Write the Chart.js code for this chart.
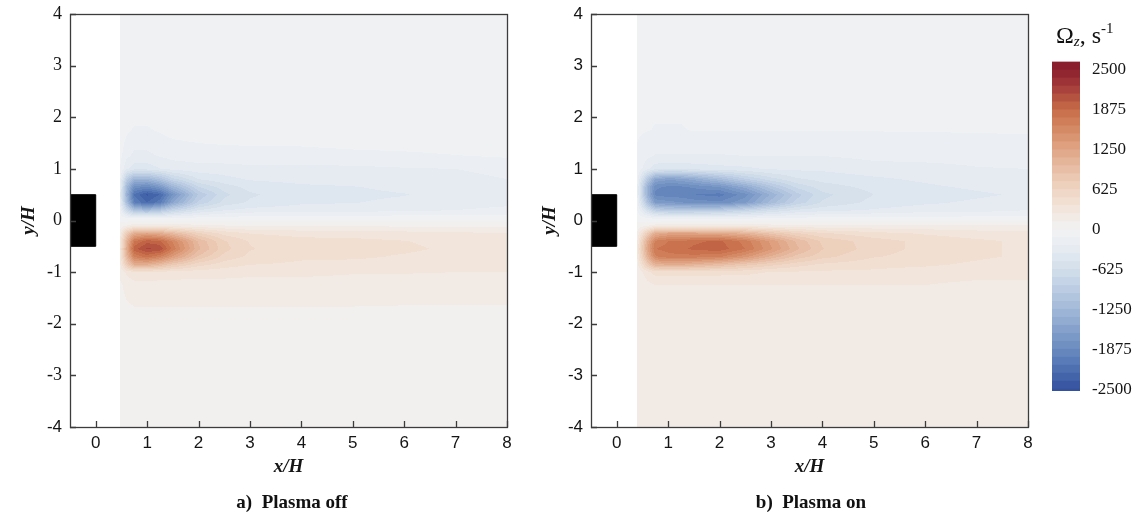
<!DOCTYPE html>
<html>
<head>
<meta charset="utf-8">
<script src="https://cdn.jsdelivr.net/npm/chart.js@4.4.1/dist/chart.umd.min.js"></script>
<style>
    body { margin: 0; background: #fff; }
    #wrap { position: relative; width: 1138px; height: 529px; overflow: hidden; }
    canvas { position: absolute; top: 0; }
    .cap { position: absolute; top: 491px; line-height: 24px; font: bold 19px "Liberation Serif", serif; color: #111; white-space: pre; transform: translateX(-50%); }
    #cbtitle { position: absolute; left: 1056px; top: 20px; font: 24px "Liberation Serif", serif; color: #111; white-space: nowrap; }
    #cbtitle sub { font-size: 15px; font-style: italic; vertical-align: -3px; }
    #cbtitle sup { font-size: 15px; vertical-align: 10px; }
</style>
</head>
<body>
<div id="wrap">
    <canvas id="off" width="530" height="529" style="left:0"></canvas>
    <canvas id="on" width="530" height="529" style="left:521px"></canvas>
    <canvas id="bar" width="98" height="529" style="left:1040px"></canvas>
    <div class="cap" style="left:292px">a)  Plasma off</div>
    <div class="cap" style="left:811px">b)  Plasma on</div>
    <div id="cbtitle">Ω<sub>z</sub>, s<sup>-1</sup></div>
</div>
<script>
var xTicks = [0, 1, 2, 3, 4, 5, 6, 7, 8]
var yTicks = [-4, -3, -2, -1, 0, 1, 2, 3, 4]
var levelTicks = [-2500, -1875, -1250, -625, 0, 625, 1250, 1875, 2500]
var levelStep = 125

// body cross-section, x/H and y/H
var blockX = [-0.5, 0, 0, -0.5, -0.5]
var blockY = [-0.5, -0.5, 0.5, 0.5, -0.5]

// grid rows, top to bottom (y/H)
var rowsY = [4, 2.5, 1.75, 1.25, 1.0, 0.8, 0.65, 0.5, 0.35, 0.2, 0.05, -0.1, -0.25, -0.4, -0.55, -0.7, -0.85, -1.0, -1.25, -1.75, -2.5, -4]

// plasma off: vorticity, s^-1
var colsOff = [0.47, 0.6, 0.75, 1.0, 1.25, 1.5, 2.0, 2.5, 3.0, 4.0, 5.0, 6.0, 7.0, 8.0]
var omegaOff = [
    [-10, -10, -10, -10, -10, -10, -10, -10, -10, -10, -10, -10, -10, -10],
    [-10, -10, -10, -10, -10, -10, -10, -10, -10, -10, -10, -10, -10, -10],
    [-30, -100, -140, -140, -110, -80, -60, -50, -40, -30, -20, -10, -10, -10],
    [-80, -220, -280, -280, -240, -210, -190, -180, -180, -180, -160, -150, -130, -110],
    [-120, -350, -450, -450, -380, -330, -300, -300, -280, -280, -280, -260, -250, -220],
    [-200, -900, -1300, -1300, -1100, -800, -500, -420, -360, -330, -320, -300, -280, -250],
    [-250, -1200, -1800, -1900, -1700, -1300, -750, -560, -460, -400, -380, -350, -320, -300],
    [-300, -1300, -2150, -2400, -2250, -1750, -980, -660, -520, -420, -400, -380, -330, -300],
    [-250, -1150, -2000, -2250, -2050, -1500, -850, -580, -480, -400, -380, -350, -300, -280],
    [-150, -700, -1100, -1200, -1050, -800, -500, -380, -330, -300, -300, -280, -250, -220],
    [-40, -120, -150, -150, -150, -120, -100, -80, -70, -60, -60, -50, -50, -50],
    [40, 130, 200, 200, 200, 180, 160, 130, 110, 110, 110, 100, 100, 100],
    [150, 750, 1150, 1250, 1150, 1000, 650, 460, 370, 330, 320, 300, 280, 250],
    [250, 1050, 1750, 1950, 1900, 1600, 980, 640, 490, 420, 410, 380, 330, 300],
    [300, 1150, 1950, 2150, 2100, 1700, 1030, 670, 510, 420, 410, 400, 350, 320],
    [250, 1000, 1650, 1800, 1650, 1350, 850, 580, 470, 400, 400, 360, 320, 300],
    [200, 750, 1150, 1150, 1000, 800, 560, 440, 380, 350, 330, 320, 300, 280],
    [150, 280, 350, 350, 340, 320, 310, 300, 280, 280, 260, 260, 250, 250],
    [100, 160, 200, 200, 200, 200, 200, 200, 200, 200, 200, 180, 180, 180],
    [80, 100, 110, 110, 110, 110, 110, 110, 110, 110, 110, 110, 110, 110],
    [80, 100, 100, 100, 100, 100, 100, 100, 100, 100, 100, 100, 100, 100],
    [80, 80, 80, 80, 80, 80, 80, 80, 80, 80, 80, 80, 80, 80]
]

// plasma on: vorticity, s^-1
var colsOn = [0.4, 0.6, 0.75, 1.0, 1.25, 1.5, 2.0, 2.5, 3.0, 3.5, 4.0, 5.0, 6.0, 7.0, 8.0]
var omegaOn = [
    [-100, -100, -100, -100, -100, -100, -100, -100, -100, -100, -100, -100, -100, -100, -100],
    [-100, -100, -100, -100, -100, -100, -100, -100, -100, -100, -100, -100, -100, -100, -100],
    [-110, -120, -130, -130, -130, -120, -120, -120, -120, -120, -120, -120, -120, -115, -115],
    [-140, -220, -260, -260, -260, -260, -260, -250, -250, -250, -250, -220, -200, -200, -180],
    [-160, -350, -450, -480, -480, -450, -420, -400, -360, -350, -350, -300, -300, -260, -250],
    [-200, -1000, -1500, -1600, -1550, -1450, -1200, -900, -680, -520, -460, -400, -350, -300, -300],
    [-250, -1350, -1850, -1900, -1900, -1850, -1750, -1450, -1050, -720, -560, -460, -400, -350, -300],
    [-250, -1350, -1900, -1950, -1950, -2000, -2050, -1800, -1350, -930, -660, -500, -450, -400, -350],
    [-200, -1100, -1650, -1700, -1750, -1800, -1850, -1650, -1200, -830, -610, -460, -400, -350, -300],
    [-120, -600, -900, -1000, -1000, -1000, -950, -800, -620, -480, -420, -360, -300, -300, -250],
    [-40, -120, -170, -170, -170, -170, -170, -160, -130, -110, -100, -100, -100, -80, -80],
    [40, 120, 180, 220, 220, 220, 220, 210, 170, 160, 150, 150, 150, 150, 150],
    [150, 750, 1150, 1250, 1250, 1250, 1200, 1080, 850, 640, 520, 420, 360, 310, 300],
    [250, 1150, 1650, 1750, 1750, 1850, 1900, 1700, 1340, 980, 720, 560, 460, 400, 350],
    [300, 1250, 1750, 1800, 1850, 1900, 1950, 1750, 1400, 1030, 760, 560, 460, 400, 350],
    [250, 1100, 1600, 1700, 1700, 1700, 1650, 1420, 1100, 830, 670, 510, 450, 400, 350],
    [200, 750, 1100, 1150, 1150, 1100, 980, 820, 680, 560, 480, 420, 400, 350, 300],
    [150, 330, 430, 430, 430, 420, 420, 410, 370, 360, 350, 350, 310, 300, 300],
    [140, 210, 250, 250, 250, 250, 250, 250, 250, 250, 250, 250, 250, 220, 220],
    [140, 160, 170, 170, 170, 170, 170, 170, 170, 170, 170, 170, 170, 170, 170],
    [140, 150, 150, 150, 150, 150, 150, 150, 150, 150, 150, 150, 150, 150, 150],
    [130, 140, 140, 140, 140, 140, 140, 140, 140, 140, 140, 140, 140, 140, 140]
]

// blue-white-red contour palette
var cmapValues = [-2500, -2200, -1875, -1560, -1250, -940, -625, -310, 0, 310, 625, 940, 1250, 1560, 1875, 2200, 2500]
var cmapColors = ['#34519e', '#4d6fb0', '#6a8bc0', '#86a2cc', '#a2b9d8', '#bccde3', '#d3deeb', '#e6ebf2', '#f2f2f2',
    '#f2e6dc', '#efd5c3', '#e8bfa6', '#e0a586', '#d48a65', '#c76c48', '#a8403b', '#8b1e2d']

var serif = 'Liberation Serif'
var sans = 'Liberation Sans'
var ink = '#151515'

function hex(c) {
    return [1, 3, 5].map(i => parseInt(c.substr(i, 2), 16))
}

function colorAt(v) {
    var n = cmapValues.length
    if (v <= cmapValues[0]) return hex(cmapColors[0])
    if (v >= cmapValues[n - 1]) return hex(cmapColors[n - 1])
    var i = 0
    while (v > cmapValues[i + 1]) i++
    var t = (v - cmapValues[i]) / (cmapValues[i + 1] - cmapValues[i])
    var a = hex(cmapColors[i]), b = hex(cmapColors[i + 1])
    return a.map((c, k) => Math.round(c + (b[k] - c) * t))
}

function bandColor(v) {
    var k = Math.floor(v / levelStep)
    return colorAt((k + 0.5) * levelStep)
}

function seek(axis, v) {
    var n = axis.length
    if (v <= axis[0]) return [0, 0]
    if (v >= axis[n - 1]) return [n - 2, 1]
    var i = 0
    while (v > axis[i + 1]) i++
    return [i, (v - axis[i]) / (axis[i + 1] - axis[i])]
}

// paints the contour field under the datasets, pixel by pixel through the scales
function fieldPlugin(cols, grid) {
    var negRows = rowsY.map(v => -v)
    return {
        id: 'field',
        beforeDatasetsDraw(chart) {
            var { ctx, chartArea } = chart
            var xs = chart.scales.x, ys = chart.scales.y
            var w = Math.round(chartArea.right - chartArea.left)
            var h = Math.round(chartArea.bottom - chartArea.top)
            var off = document.createElement('canvas')
            off.width = w
            off.height = h
            var octx = off.getContext('2d')
            var img = octx.createImageData(w, h)
            var colX = []
            for (var px = 0; px < w; px++) {
                var x = xs.getValueForPixel(chartArea.left + px + 0.5)
                colX.push(x < cols[0] ? null : seek(cols, x))
            }
            for (var py = 0; py < h; py++) {
                var y = ys.getValueForPixel(chartArea.top + py + 0.5)
                var [i, ty] = seek(negRows, -y)
                for (var px = 0; px < w; px++) {
                    var cx = colX[px]
                    if (!cx) continue
                    var [j, tx] = cx
                    var top = grid[i][j] * (1 - tx) + grid[i][j + 1] * tx
                    var bot = grid[i + 1][j] * (1 - tx) + grid[i + 1][j + 1] * tx
                    var c = bandColor(top * (1 - ty) + bot * ty)
                    var o = (py * w + px) * 4
                    img.data[o] = c[0]
                    img.data[o + 1] = c[1]
                    img.data[o + 2] = c[2]
                    img.data[o + 3] = 255
                }
            }
            octx.putImageData(img, 0, 0)
            ctx.save()
            ctx.beginPath()
            ctx.rect(chartArea.left, chartArea.top, w, h)
            ctx.clip()
            ctx.filter = 'blur(0.6px)'
            ctx.drawImage(off, chartArea.left, chartArea.top)
            ctx.restore()
        }
    }
}

// box round the plot and inward tick marks
var framePlugin = {
    id: 'frame',
    afterDraw(chart) {
        var { ctx, chartArea } = chart
        var { left, right, top, bottom } = chartArea
        ctx.save()
        ctx.strokeStyle = '#3c3c3c'
        ctx.lineWidth = 1.3
        ctx.strokeRect(Math.round(left) + 0.5, Math.round(top) + 0.5, Math.round(right - left), Math.round(bottom - top))
        ctx.beginPath()
        xTicks.forEach(v => {
            var px = Math.round(chart.scales.x.getPixelForValue(v)) + 0.5
            ctx.moveTo(px, bottom)
            ctx.lineTo(px, bottom - 6)
        })
        yTicks.forEach(v => {
            var py = Math.round(chart.scales.y.getPixelForValue(v)) + 0.5
            ctx.moveTo(left, py)
            ctx.lineTo(left + 6, py)
        })
        ctx.stroke()
        ctx.restore()
    }
}

function panel(id, cols, grid, serifTicks) {
    var block = blockX.map((x, i) => ({ x, y: blockY[i] }))
    var tickFont = c => {
        var useSerif = serifTicks && c.tick && c.tick.value !== -4
        return { family: useSerif ? serif : sans, size: useSerif ? 18 : 17 }
    }
    return new Chart(document.getElementById(id), {
        type: 'scatter',
        data: {
            datasets: [{
                data: block,
                showLine: true,
                fill: 'shape',
                backgroundColor: '#000',
                borderColor: '#000',
                borderWidth: 1,
                pointRadius: 0
            }]
        },
        options: {
            responsive: false,
            animation: false,
            layout: { padding: { top: 14, right: 23, bottom: 42, left: 0 } },
            plugins: { legend: { display: false }, tooltip: { enabled: false } },
            scales: {
                x: {
                    type: 'linear',
                    min: -0.5,
                    max: 8,
                    afterBuildTicks: s => { s.ticks = xTicks.map(v => ({ value: v })) },
                    afterFit: s => { s.height = 60 },
                    grid: { display: false, drawTicks: false },
                    border: { display: false },
                    ticks: { padding: 6, maxRotation: 0, color: ink, font: { family: sans, size: 17 } },
                    title: {
                        display: true,
                        text: 'x/H',
                        color: ink,
                        font: { family: serif, size: 19, style: 'italic', weight: 'bold' },
                        padding: { top: 0, bottom: 9 }
                    }
                },
                y: {
                    type: 'linear',
                    min: -4,
                    max: 4,
                    afterBuildTicks: s => { s.ticks = yTicks.map(v => ({ value: v })) },
                    afterFit: s => {
                        s.width = 70
                        s.paddingTop = 0
                        s.paddingBottom = 0
                    },
                    grid: { display: false, drawTicks: false },
                    border: { display: false },
                    ticks: { padding: 8, color: ink, font: tickFont },
                    title: {
                        display: true,
                        text: 'y/H',
                        color: ink,
                        font: { family: serif, size: 19, style: 'italic', weight: 'bold' },
                        padding: { top: 18, bottom: 0 }
                    }
                }
            }
        },
        plugins: [fieldPlugin(cols, grid), framePlugin]
    })
}

function colorbar(id) {
    var bands = []
    for (var lo = -2625; lo < 2625; lo += levelStep) bands.push(lo)
    return new Chart(document.getElementById(id), {
        type: 'bar',
        data: {
            labels: [''],
            datasets: bands.map(lo => ({
                data: [[lo, lo + levelStep]],
                backgroundColor: 'rgb(' + colorAt(lo + levelStep / 2).join(',') + ')',
                borderWidth: 0,
                grouped: false,
                barPercentage: 1,
                categoryPercentage: 1
            }))
        },
        options: {
            responsive: false,
            animation: false,
            layout: { padding: { top: 61, right: 0, bottom: 138, left: 12 } },
            plugins: { legend: { display: false }, tooltip: { enabled: false } },
            scales: {
                x: { display: false },
                y: {
                    position: 'right',
                    min: -2530,
                    max: 2640,
                    afterBuildTicks: s => { s.ticks = levelTicks.map(v => ({ value: v })) },
                    afterFit: s => { s.width = 58 },
                    grid: { display: false, drawTicks: false },
                    border: { display: false },
                    ticks: { padding: 12, color: ink, font: { family: serif, size: 17 }, callback: v => String(v) }
                }
            }
        }
    })
}

panel('off', colsOff, omegaOff, true)
panel('on', colsOn, omegaOn, false)
colorbar('bar')
</script>
</body>
</html>
